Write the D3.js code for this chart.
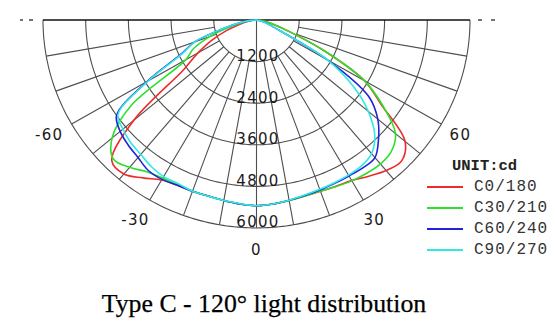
<!DOCTYPE html>
<html>
<head>
<meta charset="utf-8">
<script src="https://cdn.jsdelivr.net/npm/d3@7"></script>
<style>
  html, body { margin: 0; padding: 0; background: #fff; }
  svg { display: block; }
</style>
</head>
<body>
<svg id="chart" width="555" height="332"></svg>
<script>
// Gamma angles (degrees from nadir); negative = opposite half-plane (C180..C270)
const angles = [-90,-85,-80,-75,-70,-65,-60,-55,-50,-45,-40,-35,-30,-25,-20,-15,-10,-5,0,
                5,10,15,20,25,30,35,40,45,50,55,60,65,70,75,80,85,90];

// Luminous intensity in cd for each C-plane pair
const c0_180 = [0,100,250,500,900,1400,1900,2500,4500,5750,5800,5560,5330,5260,5260,5260,5290,5330,5360,
                5330,5290,5260,5260,5290,5350,5500,5670,5760,5450,4300,3500,2100,1000,500,250,100,0];
const c30_210 = [0,150,400,800,1400,1950,2300,4300,5300,5680,5550,5350,5270,5240,5250,5260,5290,5330,5360,
                 5330,5290,5260,5250,5300,5360,5400,5420,5360,5100,4350,3500,2100,1000,500,250,100,0];
const c60_240 = [0,200,500,1000,1850,2350,3550,4800,5000,5100,5180,5300,5310,5260,5260,5260,5290,5330,5360,
                 5330,5280,5240,5220,5200,5195,5210,5180,4850,4450,3850,2300,700,350,180,80,30,0];
const c90_270 = [0,200,500,1000,1850,2300,3500,4750,4900,5000,5060,5160,5220,5210,5260,5260,5290,5320,5360,
                 5330,5280,5230,5200,5180,5170,5140,5030,4700,4100,3300,2300,700,350,180,80,30,0];

const seriesNames = ["C0/180", "C30/210", "C60/240", "C90/270"];
const seriesValues = [c0_180, c30_210, c60_240, c90_270];
const seriesColors = ["#ee2b2b", "#2ee02e", "#2222d8", "#30e8e8"];

const ringValues = [1200, 2400, 3600, 4800, 6000];
const spokeAngles = [-80,-70,-60,-50,-40,-30,-20,-10,0,10,20,30,40,50,60,70,80];
const angleLabels = [-60, -30, 0, 30, 60];
const unitLabel = "UNIT:cd";
const title = "Type C - 120\u00b0 light distribution";

const svg = d3.select("#chart");
const cx = 256.5, cy = 20;
const r = d3.scaleLinear().domain([0, 6000]).range([0, 213.5]);
const squash = 0.974;   // vertical compression of the polar frame
const rad = d => d * Math.PI / 180;
const polar = (a, v) => [cx + r(v) * Math.sin(rad(a)), cy + r(v) * Math.cos(rad(a)) * squash];

const grid = svg.append("g").attr("fill", "none").attr("stroke", "#4e4e4e").attr("stroke-width", 1.1);

// concentric intensity rings (lower half)
const arcAngles = d3.range(-90, 90.5, 1);
grid.selectAll("path.ring").data(ringValues).join("path")
  .attr("class", "ring")
  .attr("d", v => d3.line()(arcAngles.map(a => polar(a, v))));

// spokes every 10 degrees
grid.selectAll("line.spoke").data(spokeAngles).join("line")
  .attr("class", "spoke")
  .attr("x1", a => polar(a, a === 0 ? 0 : ringValues[0])[0])
  .attr("y1", a => polar(a, a === 0 ? 0 : ringValues[0])[1])
  .attr("x2", a => polar(a, 6000)[0])
  .attr("y2", a => polar(a, 6000)[1]);

// horizon line
const left = polar(-90, 6000), right = polar(90, 6000);
svg.append("line")
  .attr("x1", left[0]).attr("y1", cy).attr("x2", right[0]).attr("y2", cy)
  .attr("stroke", "#111").attr("stroke-width", 1.5);

// short dashes beyond the horizon ends
[[-23, -20], [-14, -10], [8, 12], [21, 25]].forEach(([a, b]) => {
  const base = b < 0 ? left[0] : right[0];
  svg.append("line")
    .attr("x1", base + a).attr("x2", base + b)
    .attr("y1", cy).attr("y2", cy)
    .attr("stroke", "#444").attr("stroke-width", 1.5);
});

// intensity ring labels
svg.selectAll("text.ringlab").data(ringValues).join("text")
  .attr("class", "ringlab")
  .attr("x", cx + 1.5)
  .attr("y", v => polar(0, v)[1] - 0.5)
  .attr("text-anchor", "middle")
  .attr("font-family", "DejaVu Sans")
  .attr("font-size", 15)
  .attr("letter-spacing", 1.3)
  .attr("fill", "#1a1a1a")
  .text(v => v);

// photometric curves
const curve = d3.line().curve(d3.curveCatmullRom.alpha(0.5));
svg.append("g").selectAll("path").data(seriesValues).join("path")
  .attr("fill", "none")
  .attr("stroke", (d, i) => seriesColors[i])
  .attr("stroke-width", 1.6)
  .attr("d", vals => curve(angles.map((a, j) => polar(a, vals[j]))));

// gamma angle labels outside the outer ring
const angLab = svg.selectAll("text.anglab").data(angleLabels).join("text")
  .attr("class", "anglab")
  .attr("text-anchor", "middle")
  .attr("font-family", "DejaVu Sans")
  .attr("font-size", 15)
  .attr("letter-spacing", 1.3)
  .attr("fill", "#1a1a1a")
  .text(a => a);
angLab.each(function (a) {
  const p = polar(a, 6000);
  const d = 22;
  let x = p[0] + d * Math.sin(rad(a));
  const y = p[1] + d * Math.cos(rad(a));
  if (a < 0) x -= this.getSubStringLength(0, 1) / 2;
  d3.select(this).attr("x", x).attr("y", y).attr("dy", "0.36em");
});

// legend
const lg = svg.append("g");
lg.append("text")
  .attr("x", 452).attr("y", 170)
  .attr("font-family", "Liberation Mono").attr("font-weight", "bold")
  .attr("font-size", 15.5).attr("fill", "#222")
  .text(unitLabel);
const items = lg.selectAll("g.item").data(seriesNames).join("g")
  .attr("class", "item")
  .attr("transform", (d, i) => `translate(0, ${187 + i * 21})`);
items.append("line")
  .attr("x1", 427).attr("x2", 463).attr("y1", 0).attr("y2", 0)
  .attr("stroke", (d, i) => seriesColors[i]).attr("stroke-width", 2);
items.append("text")
  .attr("x", 474).attr("y", 4)
  .attr("font-family", "Liberation Mono").attr("font-size", 16)
  .attr("letter-spacing", 1).attr("fill", "#333")
  .text(d => d);

// caption
svg.append("text")
  .attr("x", 264).attr("y", 312)
  .attr("text-anchor", "middle")
  .attr("font-family", "Liberation Serif")
  .attr("font-size", 25.8)
  .attr("fill", "#000")
  .attr("stroke", "#000").attr("stroke-width", 0.25)
  .text(title);
</script>
</body>
</html>
